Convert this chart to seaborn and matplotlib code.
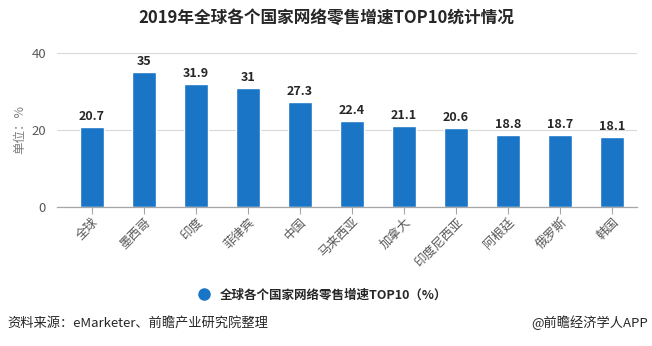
import matplotlib
matplotlib.use("Agg")
import matplotlib.pyplot as plt
import seaborn as sns
import pandas as pd
from matplotlib.lines import Line2D

categories = ["全球", "墨西哥", "印度", "菲律宾", "中国", "马来西亚", "加拿大", "印度尼西亚", "阿根廷", "俄罗斯", "韩国"]
values = [20.7, 35, 31.9, 31, 27.3, 22.4, 21.1, 20.6, 18.8, 18.7, 18.1]
value_labels = ["20.7", "35", "31.9", "31", "27.3", "22.4", "21.1", "20.6", "18.8", "18.7", "18.1"]
yticks = [0, 20, 40]
title = "2019年全球各个国家网络零售增速TOP10统计情况"
legend_label = "全球各个国家网络零售增速TOP10（%）"
ylabel = "单位：%"
source = "资料来源：eMarketer、前瞻产业研究院整理"
credit = "@前瞻经济学人APP"

sns.set_theme(style="white")
plt.rcParams["font.family"] = ["Noto Sans CJK SC", "DejaVu Sans"]

bar_color = "#1a75c6"
df = pd.DataFrame({"cat": categories, "val": values})

fig = plt.figure(figsize=(6.52, 3.46), dpi=100)
ax = fig.add_axes([57/652, 1-207/346, (637-57)/652, (207-53)/346])
sns.barplot(data=df, x="cat", y="val", color=bar_color, width=0.46, saturation=1, ax=ax)

ax.set_xlim(-0.67, 10.48)
ax.set_ylim(0, 40)
ax.set_yticks(yticks)
ax.set_yticklabels([str(t) for t in yticks], fontsize=9.5, color="#595959")
ax.grid(axis="y", color="#d9d9d9", linewidth=0.8)
ax.set_axisbelow(True)
for s in ["top", "right", "left"]:
    ax.spines[s].set_visible(False)
ax.spines["bottom"].set_color("#a6a6a6")
ax.spines["bottom"].set_linewidth(0.9)
ax.tick_params(axis="y", length=0, pad=8)
ax.tick_params(axis="x", length=5, color="#a6a6a6", width=0.8, pad=1, bottom=True)
ax.set_xticks(range(len(categories)))
ax.set_xticklabels(categories, rotation=45, ha="right", rotation_mode="anchor", fontsize=9, color="#595959")
ax.set_xlabel("")
ax.set_ylabel("")
fig.text(20/652, 1-130/346, ylabel, rotation=90, ha="center", va="center", fontsize=9, color="#7f7f7f")

for i, (v, lab) in enumerate(zip(values, value_labels)):
    ax.text(i, v + 1.0, lab, ha="center", va="bottom", fontsize=9, fontweight="bold", color="#262626")

fig.text(0.5, 1-18/346, title, ha="center", va="center", fontsize=12, fontweight="bold", color="#262626")

handle = Line2D([], [], marker="o", linestyle="", markersize=8, color=bar_color)
fig.legend([handle], [legend_label], loc="center", bbox_to_anchor=(0.49, 1-295/346), frameon=False,
           handletextpad=0.3, prop={"weight": "bold", "size": 9})

fig.text(7/652, 1-323/346, source, ha="left", va="center", fontsize=9.5, color="#262626")
fig.text(648/652, 1-323/346, credit, ha="right", va="center", fontsize=9.5, color="#262626")

fig.savefig("out.png", dpi=100)
